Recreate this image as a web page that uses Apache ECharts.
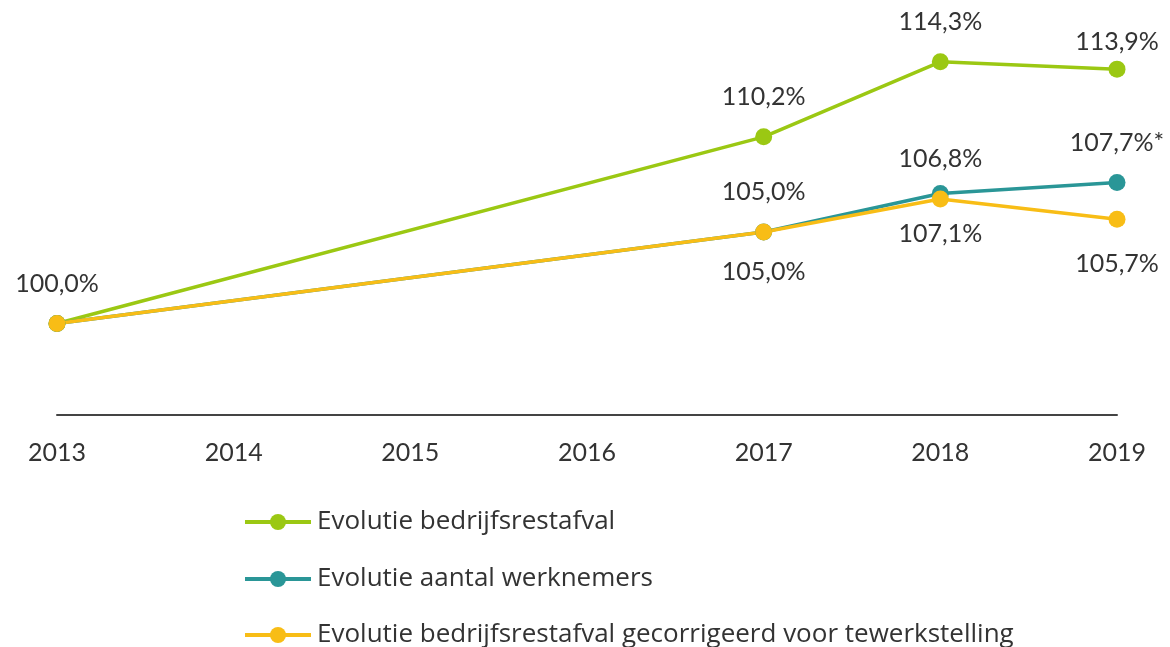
<!DOCTYPE html>
<html><head><meta charset="utf-8">
<script src="https://cdn.jsdelivr.net/npm/echarts@6/dist/echarts.min.js"></script>
<style>html,body{margin:0;padding:0;background:#fff}#c{width:1170px;height:647px}</style>
</head><body><div id="c"></div>
<script>
var years = ['2013','2014','2015','2016','2017','2018','2019'];
var names = ['Evolutie bedrijfsrestafval','Evolutie aantal werknemers','Evolutie bedrijfsrestafval gecorrigeerd voor tewerkstelling'];
var afval = [100.0, null, null, null, 110.2, 114.3, 113.9];
var werknemers = [100.0, null, null, null, 105.0, 107.1, 107.7];
var gecorrigeerd = [100.0, null, null, null, 105.0, 106.8, 105.7];
var werknemersNote = ['', '', '', '', '', '', '*'];
var colors = ['#9BC813', '#2A9697', '#F8BD16'];

var FONT = 'Lato, "Open Sans", sans-serif';
var LFONT = '"Open Sans", Lato, sans-serif';
var TXT = '#333333';
function fmt(v){ return v.toFixed(1).replace('.', ',') + '%'; }
function build(vals, posArr, showArr, note, dist){
  return vals.map(function(v, i){
    if (v === null) return null;
    var lb = {show: showArr[i], position: posArr[i],
      formatter: function(){ return fmt(v) + (note ? note[i] : ''); }};
    if (dist && dist[i] != null) lb.distance = dist[i];
    return {value: v, label: lb};
  });
}
var lblBase = {color: TXT, fontSize: 25, fontFamily: FONT, distance: 19};
function series(name, data, color){
  return {name: name, type: 'line', data: data, connectNulls: true, color: color,
    symbol: 'circle', symbolSize: 17, lineStyle: {width: 3.5, color: color},
    itemStyle: {color: color}, label: lblBase, z: 2, animation: false};
}
function legend(name, top){
  return {orient: 'horizontal', left: 243, top: top, padding: 0, itemWidth: 66, itemHeight: 20,
    lineStyle: {width: 4},
    textStyle: {color: TXT, fontSize: 26, fontFamily: LFONT, lineHeight: 20, padding: [0,0,0,1]},
    data: [name]};
}
var chart = echarts.init(document.getElementById('c'), null, {renderer: 'canvas'});
chart.setOption({
  animation: false,
  grid: {left: 57, right: 53, top: 49, bottom: 232},
  xAxis: {type: 'category', data: years, boundaryGap: false,
    axisLine: {lineStyle: {color: '#444', width: 2}}, axisTick: {show: false},
    axisLabel: {color: TXT, fontSize: 25, fontFamily: FONT, margin: 25}},
  yAxis: {type: 'value', min: 95, max: 115, show: false, splitLine: {show: false}},
  legend: [legend(names[0], 509), legend(names[1], 566), legend(names[2], 622)],
  series: [
    series(names[0], build(afval, ['top','top','top','top','top','top','top'], [true,false,false,false,true,true,true], null, [null,null,null,null,null,null,6]), colors[0]),
    series(names[1], build(werknemers, ['top','top','top','top','bottom','bottom','top'], [false,false,false,false,true,true,true], werknemersNote), colors[1]),
    series(names[2], build(gecorrigeerd, ['top','top','top','top','top','top','bottom'], [false,false,false,false,true,true,true], null, [null,null,null,null,null,null,24]), colors[2])
  ]
});
</script></body></html>
